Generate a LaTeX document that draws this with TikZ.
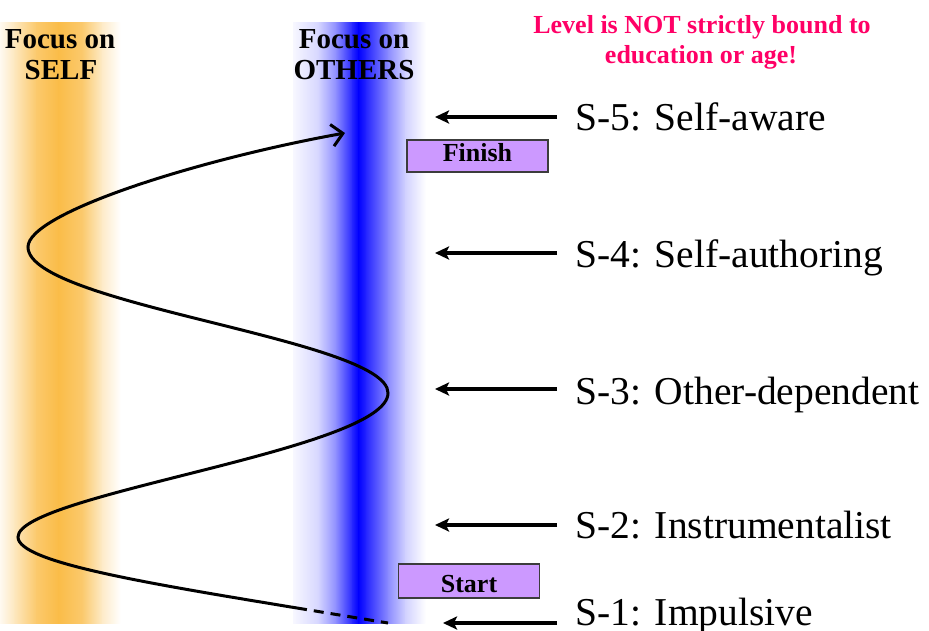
\documentclass[tikz,border=0pt]{standalone}
\usepackage{fontspec}
\setmainfont{Liberation Serif}
\usetikzlibrary{arrows.meta}
\definecolor{selfband}{RGB}{250,188,72}
\definecolor{notepink}{RGB}{255,0,102}
\definecolor{stagefill}{RGB}{204,153,255}
\definecolor{stageline}{RGB}{60,60,60}
\begin{document}
\begin{tikzpicture}[x=1pt,y=-1pt,
  headtxt/.style={font=\fontsize{29}{31}\selectfont\bfseries, inner sep=0pt, anchor=base},
  notetxt/.style={font=\fontsize{26}{29}\selectfont\bfseries, text=notepink, inner sep=0pt, anchor=base},
  leveltxt/.style={font=\fontsize{39.5}{42}\selectfont, inner sep=0pt, anchor=base west},
  stagebox/.style={draw=stageline, line width=1.2pt, fill=stagefill, minimum width=141pt,
                   inner sep=0pt, font=\fontsize{26}{28}\selectfont\bfseries},
  levelarrow/.style={line width=3.5pt, -{Stealth[length=14pt,width=13pt,inset=3pt]}},
  pathline/.style={line width=3pt}
]
\useasboundingbox (0,0) rectangle (929,630);

% soft vertical bands: self (orange) and others (blue)
\foreach \xa/\xb/\ca/\cb in {0/14/8/35, 14/36/35/80, 36/58/80/100, 58/82/100/80, 82/102/80/30, 102/120/30/0}
  \shade[left color=selfband!\ca, right color=selfband!\cb] (\xa,22) rectangle (\xb+0.7,623);
\foreach \xa/\xb/\ca/\cb in {293/318/3/16, 318/336/16/45, 336/352/45/85, 352/358/85/100,
                             358/366/100/85, 366/388/85/45, 388/405/45/18, 405/425/18/0}
  \shade[left color=blue!\ca, right color=blue!\cb] (\xa,22) rectangle (\xb+0.7,623);

% developmental path swinging between the two foci
\coordinate (walkstart) at (388,623);
\coordinate (walkjoin) at (297,608);
\coordinate (turnA) at (18,537);
\coordinate (turnB) at (388,393);
\coordinate (turnC) at (28,247);
\coordinate (walkend) at (345,133);
\draw[pathline, dash pattern=on 10pt off 7pt] (walkjoin) -- (walkstart);
\draw[pathline, -{Straight Barb[length=11pt,width=22pt]}]
  (walkjoin) .. controls (143,582.6) and (18,562) .. (turnA)
             .. controls (18,494) and (388,450) .. (turnB)
             .. controls (388,339) and (28,305) .. (turnC)
             .. controls (28,213) and (197.4,159.6) .. (walkend);

% start / finish markers
\node[stagebox, minimum height=32pt, text height=17pt, text depth=7pt] (finish) at (477.5,156) {Finish};
\node[stagebox, minimum height=34pt, text height=22pt, text depth=0pt] (start) at (469,581) {Start};

% column headings
\node[headtxt] (selfA) at (60,48) {Focus on};
\node[headtxt] (selfB) at (61,79) {SELF};
\node[headtxt] (othersA) at (354,48) {Focus on};
\node[headtxt] (othersB) at (354,79) {OTHERS};

% note
\node[notetxt] (noteA) at (702,33) {Level is NOT strictly bound to};
\node[notetxt] (noteB) at (701,63) {education or age!};

% stage labels and their pointers
\node[leveltxt] (lvl5) at (575,130) {S-5:\hspace{0.35em}Self-aware};
\node[leveltxt] (lvl4) at (575,267) {S-4:\hspace{0.35em}Self-authoring};
\node[leveltxt] (lvl3) at (575,404) {S-3:\hspace{0.35em}Other-dependent};
\node[leveltxt] (lvl2) at (575,538) {S-2:\hspace{0.35em}Instrumentalist};
\node[leveltxt] (lvl1) at (575,625) {S-1:\hspace{0.35em}Impulsive};

\foreach \n/\y/\tx in {5/117/435, 4/253/435, 3/389/435, 2/525/435, 1/623/443} {
  \coordinate (tail\n) at (557,\y);
  \coordinate (tip\n) at (\tx,\y);
  \draw[levelarrow] (tail\n) -- (tip\n);
}
\end{tikzpicture}
\end{document}
